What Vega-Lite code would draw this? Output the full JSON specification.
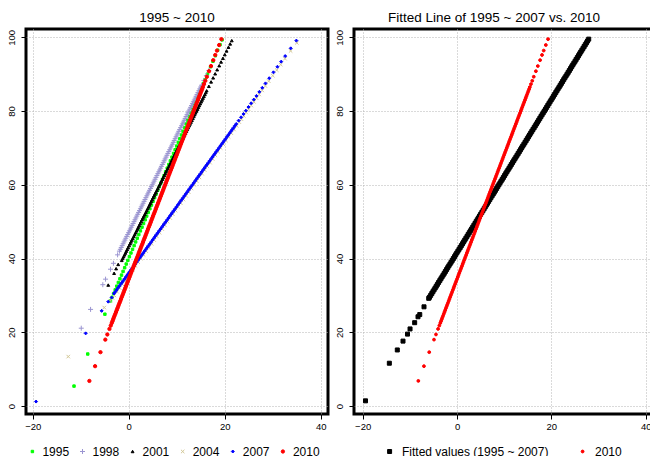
{
"$schema": "https://vega.github.io/schema/vega-lite/v6.json",
"autosize": {"type": "none"},
"padding": {"left": 26, "top": 29, "right": 624, "bottom": 427},
"spacing": 2,
"datasets": {"pts": [
{"s":"F","x":-19.4,"y":1.4},{"s":"F","x":-14.35,"y":11.6},{"s":"F","x":-12.66,"y":15.2},{"s":"F","x":-11.45,"y":17.6},{"s":"F","x":-10.5,"y":19.5},{"s":"F","x":-9.96,"y":20.9},{"s":"F","x":-8.98,"y":22.6},{"s":"F","x":-8.27,"y":24.2},{"s":"F","x":-7.9,"y":24.8},{"s":"F","x":-7.0,"y":26.9},{"s":"F","x":-6.0,"y":29.2},
{"s":"F","x":-5.83,"y":29.5},{"s":"F","x":-5.35,"y":30.5},{"s":"F","x":-4.87,"y":31.5},{"s":"F","x":-4.39,"y":32.5},{"s":"F","x":-3.91,"y":33.5},{"s":"F","x":-3.42,"y":34.5},{"s":"F","x":-2.94,"y":35.5},{"s":"F","x":-2.46,"y":36.5},{"s":"F","x":-1.98,"y":37.5},{"s":"F","x":-1.49,"y":38.5},{"s":"F","x":-1.01,"y":39.5},{"s":"F","x":-0.53,"y":40.5},{"s":"F","x":-0.05,"y":41.5},{"s":"F","x":0.43,"y":42.5},{"s":"F","x":0.92,"y":43.5},{"s":"F","x":1.4,"y":44.5},{"s":"F","x":1.88,"y":45.5},{"s":"F","x":2.36,"y":46.5},{"s":"F","x":2.84,"y":47.5},{"s":"F","x":3.33,"y":48.5},{"s":"F","x":3.81,"y":49.5},{"s":"F","x":4.29,"y":50.5},{"s":"F","x":4.77,"y":51.5},{"s":"F","x":5.26,"y":52.5},{"s":"F","x":5.74,"y":53.5},{"s":"F","x":6.22,"y":54.5},{"s":"F","x":6.7,"y":55.5},{"s":"F","x":7.18,"y":56.5},{"s":"F","x":7.67,"y":57.5},{"s":"F","x":8.15,"y":58.5},{"s":"F","x":8.63,"y":59.5},{"s":"F","x":9.11,"y":60.5},{"s":"F","x":9.6,"y":61.5},{"s":"F","x":10.08,"y":62.5},{"s":"F","x":10.56,"y":63.5},{"s":"F","x":11.04,"y":64.5},{"s":"F","x":11.52,"y":65.5},{"s":"F","x":12.01,"y":66.5},{"s":"F","x":12.49,"y":67.5},{"s":"F","x":12.97,"y":68.5},{"s":"F","x":13.45,"y":69.5},{"s":"F","x":13.93,"y":70.5},{"s":"F","x":14.42,"y":71.5},{"s":"F","x":14.9,"y":72.5},{"s":"F","x":15.38,"y":73.5},{"s":"F","x":15.86,"y":74.5},{"s":"F","x":16.35,"y":75.5},{"s":"F","x":16.83,"y":76.5},{"s":"F","x":17.31,"y":77.5},{"s":"F","x":17.79,"y":78.5},{"s":"F","x":18.27,"y":79.5},{"s":"F","x":18.76,"y":80.5},{"s":"F","x":19.24,"y":81.5},{"s":"F","x":19.72,"y":82.5},{"s":"F","x":20.2,"y":83.5},{"s":"F","x":20.69,"y":84.5},{"s":"F","x":21.17,"y":85.5},{"s":"F","x":21.65,"y":86.5},{"s":"F","x":22.13,"y":87.5},{"s":"F","x":22.61,"y":88.5},{"s":"F","x":23.1,"y":89.5},{"s":"F","x":23.58,"y":90.5},{"s":"F","x":24.06,"y":91.5},{"s":"F","x":24.54,"y":92.5},{"s":"F","x":25.03,"y":93.5},{"s":"F","x":25.51,"y":94.5},{"s":"F","x":25.99,"y":95.5},{"s":"F","x":26.47,"y":96.5},{"s":"F","x":26.95,"y":97.5},{"s":"F","x":27.44,"y":98.5},{"s":"F","x":27.92,"y":99.5},
{"s":"F","x":-5.59,"y":30},{"s":"F","x":-5.11,"y":31},{"s":"F","x":-4.63,"y":32},{"s":"F","x":-4.15,"y":33},{"s":"F","x":-3.66,"y":34},{"s":"F","x":-3.18,"y":35},{"s":"F","x":-2.7,"y":36},{"s":"F","x":-2.22,"y":37},{"s":"F","x":-1.74,"y":38},{"s":"F","x":-1.25,"y":39},{"s":"F","x":-0.77,"y":40},{"s":"F","x":-0.29,"y":41},{"s":"F","x":0.19,"y":42},{"s":"F","x":0.68,"y":43},{"s":"F","x":1.16,"y":44},{"s":"F","x":1.64,"y":45},{"s":"F","x":2.12,"y":46},{"s":"F","x":2.6,"y":47},{"s":"F","x":3.09,"y":48},{"s":"F","x":3.57,"y":49},{"s":"F","x":4.05,"y":50},{"s":"F","x":4.53,"y":51},{"s":"F","x":5.01,"y":52},{"s":"F","x":5.5,"y":53},{"s":"F","x":5.98,"y":54},{"s":"F","x":6.46,"y":55},{"s":"F","x":6.94,"y":56},{"s":"F","x":7.43,"y":57},{"s":"F","x":7.91,"y":58},{"s":"F","x":8.39,"y":59},{"s":"F","x":8.87,"y":60},{"s":"F","x":9.35,"y":61},{"s":"F","x":9.84,"y":62},{"s":"F","x":10.32,"y":63},{"s":"F","x":10.8,"y":64},{"s":"F","x":11.28,"y":65},{"s":"F","x":11.76,"y":66},{"s":"F","x":12.25,"y":67},{"s":"F","x":12.73,"y":68},{"s":"F","x":13.21,"y":69},{"s":"F","x":13.69,"y":70},{"s":"F","x":14.18,"y":71},{"s":"F","x":14.66,"y":72},{"s":"F","x":15.14,"y":73},{"s":"F","x":15.62,"y":74},{"s":"F","x":16.1,"y":75},{"s":"F","x":16.59,"y":76},{"s":"F","x":17.07,"y":77},{"s":"F","x":17.55,"y":78},{"s":"F","x":18.03,"y":79},{"s":"F","x":18.51,"y":80},{"s":"F","x":19.0,"y":81},{"s":"F","x":19.48,"y":82},{"s":"F","x":19.96,"y":83},{"s":"F","x":20.44,"y":84},{"s":"F","x":20.93,"y":85},{"s":"F","x":21.41,"y":86},{"s":"F","x":21.89,"y":87},{"s":"F","x":22.37,"y":88},{"s":"F","x":22.85,"y":89},{"s":"F","x":23.34,"y":90},{"s":"F","x":23.82,"y":91},{"s":"F","x":24.3,"y":92},{"s":"F","x":24.78,"y":93},{"s":"F","x":25.26,"y":94},{"s":"F","x":25.75,"y":95},{"s":"F","x":26.23,"y":96},{"s":"F","x":26.71,"y":97},{"s":"F","x":27.19,"y":98},{"s":"F","x":27.67,"y":99},
{"s":"1995","x":-11.4,"y":5.4},{"s":"1995","x":-8.54,"y":14.1},{"s":"1995","x":-4.97,"y":24.9},
{"s":"1995","x":-3.81,"y":28.5},{"s":"1995","x":-3.48,"y":29.5},{"s":"1995","x":-3.15,"y":30.5},{"s":"1995","x":-2.82,"y":31.5},{"s":"1995","x":-2.5,"y":32.5},{"s":"1995","x":-2.17,"y":33.5},{"s":"1995","x":-1.84,"y":34.5},{"s":"1995","x":-1.51,"y":35.5},{"s":"1995","x":-1.18,"y":36.5},{"s":"1995","x":-0.85,"y":37.5},{"s":"1995","x":-0.53,"y":38.5},{"s":"1995","x":-0.2,"y":39.5},{"s":"1995","x":0.13,"y":40.5},{"s":"1995","x":0.46,"y":41.5},{"s":"1995","x":0.79,"y":42.5},{"s":"1995","x":1.12,"y":43.5},{"s":"1995","x":1.44,"y":44.5},{"s":"1995","x":1.77,"y":45.5},{"s":"1995","x":2.1,"y":46.5},{"s":"1995","x":2.43,"y":47.5},{"s":"1995","x":2.76,"y":48.5},{"s":"1995","x":3.09,"y":49.5},{"s":"1995","x":3.42,"y":50.5},{"s":"1995","x":3.74,"y":51.5},{"s":"1995","x":4.07,"y":52.5},{"s":"1995","x":4.4,"y":53.5},{"s":"1995","x":4.73,"y":54.5},{"s":"1995","x":5.06,"y":55.5},{"s":"1995","x":5.39,"y":56.5},{"s":"1995","x":5.71,"y":57.5},{"s":"1995","x":6.04,"y":58.5},{"s":"1995","x":6.37,"y":59.5},{"s":"1995","x":6.7,"y":60.5},{"s":"1995","x":7.03,"y":61.5},{"s":"1995","x":7.36,"y":62.5},{"s":"1995","x":7.68,"y":63.5},{"s":"1995","x":8.01,"y":64.5},{"s":"1995","x":8.34,"y":65.5},{"s":"1995","x":8.67,"y":66.5},{"s":"1995","x":9.0,"y":67.5},{"s":"1995","x":9.33,"y":68.5},{"s":"1995","x":9.66,"y":69.5},{"s":"1995","x":9.98,"y":70.5},{"s":"1995","x":10.31,"y":71.5},{"s":"1995","x":10.64,"y":72.5},{"s":"1995","x":10.97,"y":73.5},{"s":"1995","x":11.3,"y":74.5},{"s":"1995","x":11.63,"y":75.5},{"s":"1995","x":11.95,"y":76.5},{"s":"1995","x":12.28,"y":77.5},{"s":"1995","x":12.61,"y":78.5},{"s":"1995","x":12.94,"y":79.5},{"s":"1995","x":13.27,"y":80.5},{"s":"1995","x":13.6,"y":81.5},{"s":"1995","x":13.92,"y":82.5},{"s":"1995","x":14.25,"y":83.5},{"s":"1995","x":14.58,"y":84.5},{"s":"1995","x":14.91,"y":85.5},{"s":"1995","x":15.24,"y":86.5},{"s":"1995","x":15.57,"y":87.5},{"s":"1995","x":15.89,"y":88.5},
{"s":"1995","x":16.39,"y":90},{"s":"1995","x":17.04,"y":92},{"s":"1995","x":17.54,"y":93.5},{"s":"1995","x":18.03,"y":95},{"s":"1995","x":18.52,"y":96.5},{"s":"1995","x":19.02,"y":98},{"s":"1995","x":19.44,"y":99.3},
{"s":"1998","x":-9.89,"y":21.1},{"s":"1998","x":-7.95,"y":26.2},{"s":"1998","x":-5.4,"y":32.9},{"s":"1998","x":-4.83,"y":34.4},{"s":"1998","x":-3.8,"y":37.1},{"s":"1998","x":-3.19,"y":38.7},{"s":"1998","x":-2.32,"y":41.0},
{"s":"1998","x":-1.94,"y":42},{"s":"1998","x":-1.56,"y":43},{"s":"1998","x":-1.18,"y":44},{"s":"1998","x":-0.8,"y":45},{"s":"1998","x":-0.42,"y":46},{"s":"1998","x":-0.04,"y":47},{"s":"1998","x":0.34,"y":48},{"s":"1998","x":0.72,"y":49},{"s":"1998","x":1.1,"y":50},{"s":"1998","x":1.48,"y":51},{"s":"1998","x":1.86,"y":52},{"s":"1998","x":2.24,"y":53},{"s":"1998","x":2.62,"y":54},{"s":"1998","x":3.0,"y":55},{"s":"1998","x":3.38,"y":56},{"s":"1998","x":3.76,"y":57},{"s":"1998","x":4.14,"y":58},{"s":"1998","x":4.53,"y":59},{"s":"1998","x":4.91,"y":60},{"s":"1998","x":5.29,"y":61},{"s":"1998","x":5.67,"y":62},{"s":"1998","x":6.05,"y":63},{"s":"1998","x":6.43,"y":64},{"s":"1998","x":6.81,"y":65},{"s":"1998","x":7.19,"y":66},{"s":"1998","x":7.57,"y":67},{"s":"1998","x":7.95,"y":68},{"s":"1998","x":8.33,"y":69},{"s":"1998","x":8.71,"y":70},{"s":"1998","x":9.09,"y":71},{"s":"1998","x":9.47,"y":72},{"s":"1998","x":9.85,"y":73},{"s":"1998","x":10.23,"y":74},{"s":"1998","x":10.61,"y":75},{"s":"1998","x":10.99,"y":76},{"s":"1998","x":11.37,"y":77},{"s":"1998","x":11.75,"y":78},{"s":"1998","x":12.13,"y":79},{"s":"1998","x":12.51,"y":80},{"s":"1998","x":12.89,"y":81},{"s":"1998","x":13.27,"y":82},{"s":"1998","x":13.65,"y":83},{"s":"1998","x":14.03,"y":84},{"s":"1998","x":14.41,"y":85},{"s":"1998","x":14.79,"y":86},{"s":"1998","x":15.17,"y":87},
{"s":"1998","x":-1.75,"y":42.5},{"s":"1998","x":-1.37,"y":43.5},{"s":"1998","x":-0.99,"y":44.5},{"s":"1998","x":-0.61,"y":45.5},{"s":"1998","x":-0.23,"y":46.5},{"s":"1998","x":0.15,"y":47.5},{"s":"1998","x":0.53,"y":48.5},{"s":"1998","x":0.91,"y":49.5},{"s":"1998","x":1.29,"y":50.5},{"s":"1998","x":1.67,"y":51.5},{"s":"1998","x":2.05,"y":52.5},{"s":"1998","x":2.43,"y":53.5},{"s":"1998","x":2.81,"y":54.5},{"s":"1998","x":3.19,"y":55.5},{"s":"1998","x":3.57,"y":56.5},{"s":"1998","x":3.95,"y":57.5},{"s":"1998","x":4.33,"y":58.5},{"s":"1998","x":4.71,"y":59.5},{"s":"1998","x":5.1,"y":60.5},{"s":"1998","x":5.48,"y":61.5},{"s":"1998","x":5.86,"y":62.5},{"s":"1998","x":6.24,"y":63.5},{"s":"1998","x":6.62,"y":64.5},{"s":"1998","x":7.0,"y":65.5},{"s":"1998","x":7.38,"y":66.5},{"s":"1998","x":7.76,"y":67.5},{"s":"1998","x":8.14,"y":68.5},{"s":"1998","x":8.52,"y":69.5},{"s":"1998","x":8.9,"y":70.5},{"s":"1998","x":9.28,"y":71.5},{"s":"1998","x":9.66,"y":72.5},{"s":"1998","x":10.04,"y":73.5},{"s":"1998","x":10.42,"y":74.5},{"s":"1998","x":10.8,"y":75.5},{"s":"1998","x":11.18,"y":76.5},{"s":"1998","x":11.56,"y":77.5},{"s":"1998","x":11.94,"y":78.5},{"s":"1998","x":12.32,"y":79.5},{"s":"1998","x":12.7,"y":80.5},{"s":"1998","x":13.08,"y":81.5},{"s":"1998","x":13.46,"y":82.5},{"s":"1998","x":13.84,"y":83.5},{"s":"1998","x":14.22,"y":84.5},{"s":"1998","x":14.6,"y":85.5},{"s":"1998","x":14.98,"y":86.5},
{"s":"1998","x":15.66,"y":88.3},{"s":"1998","x":16.16,"y":89.6},{"s":"1998","x":16.69,"y":91.0},
{"s":"2001","x":-4.27,"y":32.8},{"s":"2001","x":-3.05,"y":36.0},{"s":"2001","x":-2.63,"y":37.25},{"s":"2001","x":-2.2,"y":38.4},
{"s":"2001","x":-1.46,"y":39.5},{"s":"2001","x":-1.08,"y":40.5},{"s":"2001","x":-0.69,"y":41.5},{"s":"2001","x":-0.31,"y":42.5},{"s":"2001","x":0.08,"y":43.5},{"s":"2001","x":0.46,"y":44.5},{"s":"2001","x":0.85,"y":45.5},{"s":"2001","x":1.23,"y":46.5},{"s":"2001","x":1.62,"y":47.5},{"s":"2001","x":2.0,"y":48.5},{"s":"2001","x":2.38,"y":49.5},{"s":"2001","x":2.77,"y":50.5},{"s":"2001","x":3.15,"y":51.5},{"s":"2001","x":3.54,"y":52.5},{"s":"2001","x":3.92,"y":53.5},{"s":"2001","x":4.31,"y":54.5},{"s":"2001","x":4.69,"y":55.5},{"s":"2001","x":5.08,"y":56.5},{"s":"2001","x":5.46,"y":57.5},{"s":"2001","x":5.85,"y":58.5},{"s":"2001","x":6.23,"y":59.5},{"s":"2001","x":6.62,"y":60.5},{"s":"2001","x":7.0,"y":61.5},{"s":"2001","x":7.38,"y":62.5},{"s":"2001","x":7.77,"y":63.5},{"s":"2001","x":8.15,"y":64.5},{"s":"2001","x":8.54,"y":65.5},{"s":"2001","x":8.92,"y":66.5},{"s":"2001","x":9.31,"y":67.5},{"s":"2001","x":9.69,"y":68.5},{"s":"2001","x":10.08,"y":69.5},{"s":"2001","x":10.46,"y":70.5},{"s":"2001","x":10.85,"y":71.5},{"s":"2001","x":11.23,"y":72.5},{"s":"2001","x":11.62,"y":73.5},{"s":"2001","x":12.0,"y":74.5},{"s":"2001","x":12.38,"y":75.5},{"s":"2001","x":12.77,"y":76.5},{"s":"2001","x":13.15,"y":77.5},{"s":"2001","x":13.54,"y":78.5},{"s":"2001","x":13.92,"y":79.5},{"s":"2001","x":14.31,"y":80.5},{"s":"2001","x":14.69,"y":81.5},{"s":"2001","x":15.08,"y":82.5},{"s":"2001","x":15.46,"y":83.5},{"s":"2001","x":15.85,"y":84.5},{"s":"2001","x":16.23,"y":85.5},
{"s":"2001","x":-1.27,"y":40},{"s":"2001","x":-0.88,"y":41},{"s":"2001","x":-0.5,"y":42},{"s":"2001","x":-0.12,"y":43},{"s":"2001","x":0.27,"y":44},{"s":"2001","x":0.65,"y":45},{"s":"2001","x":1.04,"y":46},{"s":"2001","x":1.42,"y":47},{"s":"2001","x":1.81,"y":48},{"s":"2001","x":2.19,"y":49},{"s":"2001","x":2.58,"y":50},{"s":"2001","x":2.96,"y":51},{"s":"2001","x":3.35,"y":52},{"s":"2001","x":3.73,"y":53},{"s":"2001","x":4.12,"y":54},{"s":"2001","x":4.5,"y":55},{"s":"2001","x":4.88,"y":56},{"s":"2001","x":5.27,"y":57},{"s":"2001","x":5.65,"y":58},{"s":"2001","x":6.04,"y":59},{"s":"2001","x":6.42,"y":60},{"s":"2001","x":6.81,"y":61},{"s":"2001","x":7.19,"y":62},{"s":"2001","x":7.58,"y":63},{"s":"2001","x":7.96,"y":64},{"s":"2001","x":8.35,"y":65},{"s":"2001","x":8.73,"y":66},{"s":"2001","x":9.12,"y":67},{"s":"2001","x":9.5,"y":68},{"s":"2001","x":9.88,"y":69},{"s":"2001","x":10.27,"y":70},{"s":"2001","x":10.65,"y":71},{"s":"2001","x":11.04,"y":72},{"s":"2001","x":11.42,"y":73},{"s":"2001","x":11.81,"y":74},{"s":"2001","x":12.19,"y":75},{"s":"2001","x":12.58,"y":76},{"s":"2001","x":12.96,"y":77},{"s":"2001","x":13.35,"y":78},{"s":"2001","x":13.73,"y":79},{"s":"2001","x":14.12,"y":80},{"s":"2001","x":14.5,"y":81},{"s":"2001","x":14.89,"y":82},{"s":"2001","x":15.27,"y":83},{"s":"2001","x":15.65,"y":84},{"s":"2001","x":16.04,"y":85},
{"s":"2001","x":16.69,"y":86.7},{"s":"2001","x":17.15,"y":87.9},{"s":"2001","x":17.58,"y":89.0},{"s":"2001","x":18.0,"y":90.1},{"s":"2001","x":18.42,"y":91.2},{"s":"2001","x":18.85,"y":92.3},{"s":"2001","x":19.23,"y":93.3},{"s":"2001","x":19.62,"y":94.3},{"s":"2001","x":20.0,"y":95.3},{"s":"2001","x":20.38,"y":96.3},{"s":"2001","x":20.77,"y":97.3},{"s":"2001","x":21.12,"y":98.2},{"s":"2001","x":21.46,"y":99.1},
{"s":"2004","x":-12.6,"y":13.4},{"s":"2004","x":-5.1,"y":26.7},{"s":"2004","x":-3.83,"y":28.5},{"s":"2004","x":-3.39,"y":29.3},
{"s":"2004","x":-3.01,"y":30},{"s":"2004","x":-2.45,"y":31},{"s":"2004","x":-1.9,"y":32},{"s":"2004","x":-1.34,"y":33},{"s":"2004","x":-0.79,"y":34},{"s":"2004","x":-0.24,"y":35},{"s":"2004","x":0.32,"y":36},{"s":"2004","x":0.87,"y":37},{"s":"2004","x":1.42,"y":38},{"s":"2004","x":1.98,"y":39},{"s":"2004","x":2.53,"y":40},{"s":"2004","x":3.09,"y":41},{"s":"2004","x":3.64,"y":42},{"s":"2004","x":4.19,"y":43},{"s":"2004","x":4.75,"y":44},{"s":"2004","x":5.3,"y":45},{"s":"2004","x":5.85,"y":46},{"s":"2004","x":6.41,"y":47},{"s":"2004","x":6.96,"y":48},{"s":"2004","x":7.52,"y":49},{"s":"2004","x":8.07,"y":50},{"s":"2004","x":8.62,"y":51},{"s":"2004","x":9.18,"y":52},{"s":"2004","x":9.73,"y":53},{"s":"2004","x":10.28,"y":54},{"s":"2004","x":10.84,"y":55},{"s":"2004","x":11.39,"y":56},{"s":"2004","x":11.95,"y":57},{"s":"2004","x":12.5,"y":58},{"s":"2004","x":13.05,"y":59},{"s":"2004","x":13.61,"y":60},{"s":"2004","x":14.16,"y":61},{"s":"2004","x":14.71,"y":62},{"s":"2004","x":15.27,"y":63},{"s":"2004","x":15.82,"y":64},{"s":"2004","x":16.37,"y":65},{"s":"2004","x":16.93,"y":66},{"s":"2004","x":17.48,"y":67},{"s":"2004","x":18.04,"y":68},{"s":"2004","x":18.59,"y":69},{"s":"2004","x":19.14,"y":70},{"s":"2004","x":19.7,"y":71},{"s":"2004","x":20.25,"y":72},{"s":"2004","x":20.8,"y":73},{"s":"2004","x":21.36,"y":74},{"s":"2004","x":21.91,"y":75},{"s":"2004","x":22.47,"y":76},{"s":"2004","x":23.02,"y":77},
{"s":"2004","x":23.46,"y":77.8},{"s":"2004","x":23.96,"y":78.7},{"s":"2004","x":24.46,"y":79.6},{"s":"2004","x":24.96,"y":80.5},{"s":"2004","x":25.51,"y":81.5},{"s":"2004","x":26.06,"y":82.5},{"s":"2004","x":26.62,"y":83.5},{"s":"2004","x":27.17,"y":84.5},{"s":"2004","x":27.78,"y":85.6},{"s":"2004","x":28.45,"y":86.8},{"s":"2004","x":29.16,"y":88.1},{"s":"2004","x":30.0,"y":89.6},{"s":"2004","x":30.83,"y":91.1},{"s":"2004","x":31.66,"y":92.6},{"s":"2004","x":32.54,"y":94.2},{"s":"2004","x":33.71,"y":96.3},{"s":"2004","x":35.0,"y":98.5},
{"s":"2007","x":-19.3,"y":1.2},{"s":"2007","x":-8.97,"y":19.7},{"s":"2007","x":-5.64,"y":25.8},{"s":"2007","x":-4.27,"y":28.3},{"s":"2007","x":-3.56,"y":29.4},
{"s":"2007","x":-3.08,"y":30.5},{"s":"2007","x":-2.8,"y":31},{"s":"2007","x":-2.52,"y":31.5},{"s":"2007","x":-2.25,"y":32},{"s":"2007","x":-1.97,"y":32.5},{"s":"2007","x":-1.69,"y":33},{"s":"2007","x":-1.42,"y":33.5},{"s":"2007","x":-1.14,"y":34},{"s":"2007","x":-0.86,"y":34.5},{"s":"2007","x":-0.59,"y":35},{"s":"2007","x":-0.31,"y":35.5},{"s":"2007","x":-0.03,"y":36},{"s":"2007","x":0.24,"y":36.5},{"s":"2007","x":0.52,"y":37},{"s":"2007","x":0.8,"y":37.5},{"s":"2007","x":1.07,"y":38},{"s":"2007","x":1.35,"y":38.5},{"s":"2007","x":1.63,"y":39},{"s":"2007","x":1.9,"y":39.5},{"s":"2007","x":2.18,"y":40},{"s":"2007","x":2.46,"y":40.5},{"s":"2007","x":2.74,"y":41},{"s":"2007","x":3.01,"y":41.5},{"s":"2007","x":3.29,"y":42},{"s":"2007","x":3.57,"y":42.5},{"s":"2007","x":3.84,"y":43},{"s":"2007","x":4.12,"y":43.5},{"s":"2007","x":4.4,"y":44},{"s":"2007","x":4.67,"y":44.5},{"s":"2007","x":4.95,"y":45},{"s":"2007","x":5.23,"y":45.5},{"s":"2007","x":5.5,"y":46},{"s":"2007","x":5.78,"y":46.5},{"s":"2007","x":6.06,"y":47},{"s":"2007","x":6.33,"y":47.5},{"s":"2007","x":6.61,"y":48},{"s":"2007","x":6.89,"y":48.5},{"s":"2007","x":7.17,"y":49},{"s":"2007","x":7.44,"y":49.5},{"s":"2007","x":7.72,"y":50},{"s":"2007","x":8.0,"y":50.5},{"s":"2007","x":8.27,"y":51},{"s":"2007","x":8.55,"y":51.5},{"s":"2007","x":8.83,"y":52},{"s":"2007","x":9.1,"y":52.5},{"s":"2007","x":9.38,"y":53},{"s":"2007","x":9.66,"y":53.5},{"s":"2007","x":9.93,"y":54},{"s":"2007","x":10.21,"y":54.5},{"s":"2007","x":10.49,"y":55},{"s":"2007","x":10.76,"y":55.5},{"s":"2007","x":11.04,"y":56},{"s":"2007","x":11.32,"y":56.5},{"s":"2007","x":11.59,"y":57},{"s":"2007","x":11.87,"y":57.5},{"s":"2007","x":12.15,"y":58},{"s":"2007","x":12.43,"y":58.5},{"s":"2007","x":12.7,"y":59},{"s":"2007","x":12.98,"y":59.5},{"s":"2007","x":13.26,"y":60},{"s":"2007","x":13.53,"y":60.5},{"s":"2007","x":13.81,"y":61},{"s":"2007","x":14.09,"y":61.5},{"s":"2007","x":14.36,"y":62},{"s":"2007","x":14.64,"y":62.5},{"s":"2007","x":14.92,"y":63},{"s":"2007","x":15.19,"y":63.5},{"s":"2007","x":15.47,"y":64},{"s":"2007","x":15.75,"y":64.5},{"s":"2007","x":16.02,"y":65},{"s":"2007","x":16.3,"y":65.5},{"s":"2007","x":16.58,"y":66},{"s":"2007","x":16.85,"y":66.5},{"s":"2007","x":17.13,"y":67},{"s":"2007","x":17.41,"y":67.5},{"s":"2007","x":17.69,"y":68},{"s":"2007","x":17.96,"y":68.5},{"s":"2007","x":18.24,"y":69},{"s":"2007","x":18.52,"y":69.5},{"s":"2007","x":18.79,"y":70},{"s":"2007","x":19.07,"y":70.5},{"s":"2007","x":19.35,"y":71},{"s":"2007","x":19.62,"y":71.5},{"s":"2007","x":19.9,"y":72},{"s":"2007","x":20.18,"y":72.5},{"s":"2007","x":20.45,"y":73},{"s":"2007","x":20.73,"y":73.5},{"s":"2007","x":21.01,"y":74},{"s":"2007","x":21.28,"y":74.5},{"s":"2007","x":21.56,"y":75},{"s":"2007","x":21.84,"y":75.5},{"s":"2007","x":22.11,"y":76},{"s":"2007","x":22.39,"y":76.5},
{"s":"2007","x":22.89,"y":77.4},{"s":"2007","x":23.39,"y":78.3},{"s":"2007","x":23.89,"y":79.2},{"s":"2007","x":24.39,"y":80.1},{"s":"2007","x":24.94,"y":81.1},{"s":"2007","x":25.49,"y":82.1},{"s":"2007","x":26.05,"y":83.1},{"s":"2007","x":26.6,"y":84.1},{"s":"2007","x":27.21,"y":85.2},{"s":"2007","x":27.82,"y":86.3},{"s":"2007","x":28.48,"y":87.5},{"s":"2007","x":29.26,"y":88.9},{"s":"2007","x":30.14,"y":90.5},{"s":"2007","x":30.97,"y":92.0},{"s":"2007","x":31.75,"y":93.4},{"s":"2007","x":32.58,"y":94.9},{"s":"2007","x":33.74,"y":97.0},{"s":"2007","x":34.91,"y":99.1},
{"s":"2010","x":-8.2,"y":6.8},{"s":"2010","x":-7.01,"y":10.8},{"s":"2010","x":-5.89,"y":14.6},{"s":"2010","x":-4.88,"y":18.0},{"s":"2010","x":-4.46,"y":19.4},{"s":"2010","x":-4.02,"y":20.9},{"s":"2010","x":-3.75,"y":21.8},
{"s":"2010","x":-3.54,"y":22.5},{"s":"2010","x":-3.25,"y":23.5},{"s":"2010","x":-2.95,"y":24.5},{"s":"2010","x":-2.65,"y":25.5},{"s":"2010","x":-2.36,"y":26.5},{"s":"2010","x":-2.06,"y":27.5},{"s":"2010","x":-1.76,"y":28.5},{"s":"2010","x":-1.47,"y":29.5},{"s":"2010","x":-1.17,"y":30.5},{"s":"2010","x":-0.87,"y":31.5},{"s":"2010","x":-0.58,"y":32.5},{"s":"2010","x":-0.28,"y":33.5},{"s":"2010","x":0.02,"y":34.5},{"s":"2010","x":0.31,"y":35.5},{"s":"2010","x":0.61,"y":36.5},{"s":"2010","x":0.91,"y":37.5},{"s":"2010","x":1.2,"y":38.5},{"s":"2010","x":1.5,"y":39.5},{"s":"2010","x":1.8,"y":40.5},{"s":"2010","x":2.09,"y":41.5},{"s":"2010","x":2.39,"y":42.5},{"s":"2010","x":2.69,"y":43.5},{"s":"2010","x":2.98,"y":44.5},{"s":"2010","x":3.28,"y":45.5},{"s":"2010","x":3.58,"y":46.5},{"s":"2010","x":3.87,"y":47.5},{"s":"2010","x":4.17,"y":48.5},{"s":"2010","x":4.47,"y":49.5},{"s":"2010","x":4.76,"y":50.5},{"s":"2010","x":5.06,"y":51.5},{"s":"2010","x":5.36,"y":52.5},{"s":"2010","x":5.65,"y":53.5},{"s":"2010","x":5.95,"y":54.5},{"s":"2010","x":6.25,"y":55.5},{"s":"2010","x":6.54,"y":56.5},{"s":"2010","x":6.84,"y":57.5},{"s":"2010","x":7.14,"y":58.5},{"s":"2010","x":7.43,"y":59.5},{"s":"2010","x":7.73,"y":60.5},{"s":"2010","x":8.03,"y":61.5},{"s":"2010","x":8.32,"y":62.5},{"s":"2010","x":8.62,"y":63.5},{"s":"2010","x":8.92,"y":64.5},{"s":"2010","x":9.21,"y":65.5},{"s":"2010","x":9.51,"y":66.5},{"s":"2010","x":9.81,"y":67.5},{"s":"2010","x":10.1,"y":68.5},{"s":"2010","x":10.4,"y":69.5},{"s":"2010","x":10.7,"y":70.5},{"s":"2010","x":10.99,"y":71.5},{"s":"2010","x":11.29,"y":72.5},{"s":"2010","x":11.59,"y":73.5},{"s":"2010","x":11.88,"y":74.5},{"s":"2010","x":12.18,"y":75.5},{"s":"2010","x":12.48,"y":76.5},{"s":"2010","x":12.77,"y":77.5},{"s":"2010","x":13.07,"y":78.5},{"s":"2010","x":13.37,"y":79.5},{"s":"2010","x":13.66,"y":80.5},{"s":"2010","x":13.96,"y":81.5},{"s":"2010","x":14.26,"y":82.5},{"s":"2010","x":14.55,"y":83.5},{"s":"2010","x":14.85,"y":84.5},{"s":"2010","x":15.15,"y":85.5},{"s":"2010","x":15.44,"y":86.5},
{"s":"2010","x":-3.39,"y":23},{"s":"2010","x":-3.1,"y":24},{"s":"2010","x":-2.8,"y":25},{"s":"2010","x":-2.5,"y":26},{"s":"2010","x":-2.21,"y":27},{"s":"2010","x":-1.91,"y":28},{"s":"2010","x":-1.61,"y":29},{"s":"2010","x":-1.32,"y":30},{"s":"2010","x":-1.02,"y":31},{"s":"2010","x":-0.72,"y":32},{"s":"2010","x":-0.43,"y":33},{"s":"2010","x":-0.13,"y":34},{"s":"2010","x":0.17,"y":35},{"s":"2010","x":0.46,"y":36},{"s":"2010","x":0.76,"y":37},{"s":"2010","x":1.06,"y":38},{"s":"2010","x":1.35,"y":39},{"s":"2010","x":1.65,"y":40},{"s":"2010","x":1.95,"y":41},{"s":"2010","x":2.24,"y":42},{"s":"2010","x":2.54,"y":43},{"s":"2010","x":2.84,"y":44},{"s":"2010","x":3.13,"y":45},{"s":"2010","x":3.43,"y":46},{"s":"2010","x":3.73,"y":47},{"s":"2010","x":4.02,"y":48},{"s":"2010","x":4.32,"y":49},{"s":"2010","x":4.62,"y":50},{"s":"2010","x":4.91,"y":51},{"s":"2010","x":5.21,"y":52},{"s":"2010","x":5.51,"y":53},{"s":"2010","x":5.8,"y":54},{"s":"2010","x":6.1,"y":55},{"s":"2010","x":6.4,"y":56},{"s":"2010","x":6.69,"y":57},{"s":"2010","x":6.99,"y":58},{"s":"2010","x":7.29,"y":59},{"s":"2010","x":7.58,"y":60},{"s":"2010","x":7.88,"y":61},{"s":"2010","x":8.18,"y":62},{"s":"2010","x":8.47,"y":63},{"s":"2010","x":8.77,"y":64},{"s":"2010","x":9.07,"y":65},{"s":"2010","x":9.36,"y":66},{"s":"2010","x":9.66,"y":67},{"s":"2010","x":9.96,"y":68},{"s":"2010","x":10.25,"y":69},{"s":"2010","x":10.55,"y":70},{"s":"2010","x":10.85,"y":71},{"s":"2010","x":11.14,"y":72},{"s":"2010","x":11.44,"y":73},{"s":"2010","x":11.74,"y":74},{"s":"2010","x":12.03,"y":75},{"s":"2010","x":12.33,"y":76},{"s":"2010","x":12.63,"y":77},{"s":"2010","x":12.92,"y":78},{"s":"2010","x":13.22,"y":79},{"s":"2010","x":13.52,"y":80},{"s":"2010","x":13.81,"y":81},{"s":"2010","x":14.11,"y":82},{"s":"2010","x":14.41,"y":83},{"s":"2010","x":14.7,"y":84},{"s":"2010","x":15.0,"y":85},{"s":"2010","x":15.3,"y":86},
{"s":"2010","x":15.68,"y":87.3},{"s":"2010","x":15.95,"y":88.2},{"s":"2010","x":16.27,"y":89.3},{"s":"2010","x":16.72,"y":90.8},{"s":"2010","x":17.13,"y":92.2},{"s":"2010","x":17.61,"y":93.8},{"s":"2010","x":18.02,"y":95.2},{"s":"2010","x":18.38,"y":96.4},{"s":"2010","x":18.83,"y":97.9},{"s":"2010","x":19.3,"y":99.5}
]},
"hconcat": [
{
"width": 302, "height": 385,
"title": {"text": "1995 ~ 2010", "frame": "group", "anchor": "middle", "offset": -6.1, "baseline": "alphabetic"},
"data": {"name": "pts"},
"transform": [{"filter": {"not": {"field": "s", "equal": "F"}}}],
"mark": {"type": "point", "filled": true, "strokeWidth": 1, "opacity": 1},
"encoding": {
"x": {"field": "x", "type": "quantitative", "scale": {"domain": [-21.4, 41.5], "nice": false, "zero": false}, "axis": {"values": [-20, 0, 20, 40], "title": null}},
"y": {"field": "y", "type": "quantitative", "scale": {"domain": [-2.17, 102.25], "nice": false, "zero": false}, "axis": {"values": [0, 20, 40, 60, 80, 100], "title": null}},
"fill": {"field": "s", "type": "nominal", "scale": {"domain": ["1995","1998","2001","2004","2007","2010"], "range": ["#00ff00","#9b95d1","#000000","#d2c795","#0000ff","#ff0000"]},
"legend": {"orient": "none", "legendX": 0.4, "legendY": 416.5, "direction": "horizontal", "columns": 6, "title": null, "labelOffset": 4, "columnPadding": 7.1}},
"stroke": {"field": "s", "type": "nominal", "scale": {"domain": ["1995","1998","2001","2004","2007","2010"], "range": ["#00ff00","#9b95d1","#000000","#d2c795","#0000ff","#ff0000"]}},
"shape": {"field": "s", "type": "nominal", "scale": {"domain": ["1995","1998","2001","2004","2007","2010"], "range": ["square","M-1,0L1,0M0,-1L0,1","triangle-up","M-1,-1L1,1M-1,1L1,-1","diamond","circle"]}},
"size": {"field": "s", "type": "nominal", "scale": {"type": "ordinal", "domain": ["1995","1998","2001","2004","2007","2010"], "range": [6, 25, 8, 12, 9, 11]}}
}
},
{
"width": 300, "height": 385,
"title": {"text": "Fitted Line of 1995 ~ 2007 vs. 2010", "frame": "group", "anchor": "middle", "offset": -6.1, "baseline": "alphabetic", "dx": -10},
"data": {"name": "pts"},
"transform": [{"filter": {"field": "s", "oneOf": ["F", "2010"]}}],
"mark": {"type": "point", "filled": true, "strokeWidth": 1, "opacity": 1},
"encoding": {
"x": {"field": "x", "type": "quantitative", "scale": {"domain": [-21.84, 41.76], "nice": false, "zero": false}, "axis": {"values": [-20, 0, 20, 40], "title": null}},
"y": {"field": "y", "type": "quantitative", "scale": {"domain": [-2.17, 102.25], "nice": false, "zero": false}, "axis": {"values": [0, 20, 40, 60, 80, 100], "title": null}},
"fill": {"field": "s", "type": "nominal", "scale": {"domain": ["F","2010"], "range": ["#000000","#ff0000"]},
"legend": {"orient": "none", "legendX": 29.6, "legendY": 416.5, "direction": "horizontal", "columns": 2, "title": null, "labelOffset": 6.4, "columnPadding": 28, "labelExpr": "datum.label == 'F' ? 'Fitted values (1995 ~ 2007)' : datum.label"}},
"stroke": {"field": "s", "type": "nominal", "scale": {"domain": ["F","2010"], "range": ["#000000","#ff0000"]}},
"shape": {"field": "s", "type": "nominal", "scale": {"domain": ["F","2010"], "range": ["square","circle"]}},
"size": {"field": "s", "type": "nominal", "scale": {"type": "ordinal", "domain": ["F","2010"], "range": [16, 8]}}
}
}
],
"resolve": {"scale": {"x": "independent", "y": "independent", "fill": "independent", "stroke": "independent", "shape": "independent", "size": "independent"}, "legend": {"fill": "independent", "stroke": "independent", "shape": "independent", "size": "independent"}},
"config": {
"font": "Liberation Sans",
"view": {"stroke": "black", "strokeWidth": 3},
"axis": {"domain": false, "grid": true, "gridColor": "#b5b5b5", "gridDash": [1, 2], "gridWidth": 1, "tickColor": "black", "tickSize": 5, "tickWidth": 1, "labelColor": "black", "labelFontSize": 9.5, "labelFont": "Liberation Sans", "labelFlush": false, "labelOverlap": false},
"axisX": {"labelPadding": 2.5},
"axisY": {"labelAngle": -90, "labelAlign": "center", "labelBaseline": "alphabetic", "labelPadding": 7},
"title": {"fontSize": 13.5, "fontWeight": "normal", "color": "black", "font": "Liberation Sans"},
"legend": {"labelFontSize": 12, "labelColor": "black", "labelFont": "Liberation Sans", "padding": 0, "symbolStrokeWidth": 1}
}
}
